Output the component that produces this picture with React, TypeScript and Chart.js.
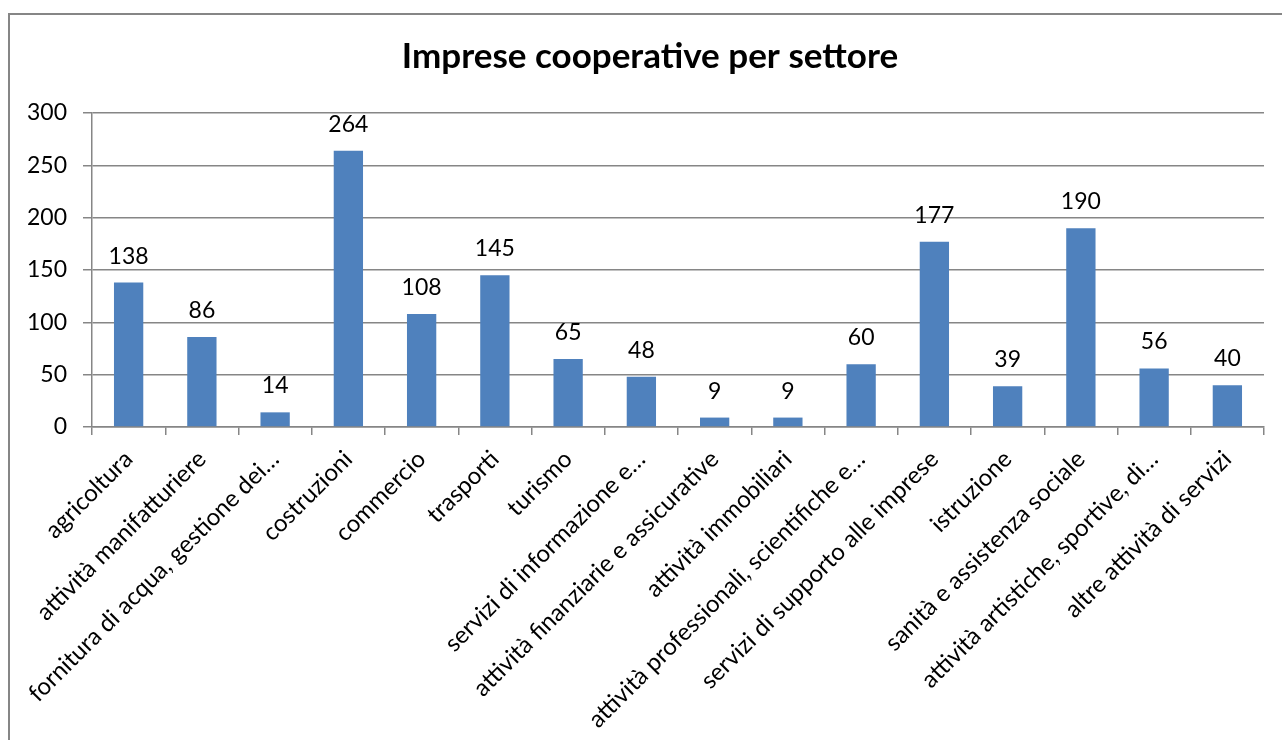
import React, { useEffect, useRef } from "react";
import { Chart, registerables } from "chart.js";

Chart.register(...registerables);

const title = "Imprese cooperative per settore";

const categories = [
  "agricoltura",
  "attività manifatturiere",
  "fornitura di acqua, gestione dei…",
  "costruzioni",
  "commercio",
  "trasporti",
  "turismo",
  "servizi di informazione e…",
  "attività finanziarie e assicurative",
  "attività immobiliari",
  "attività professionali, scientifiche e…",
  "servizi di supporto alle imprese",
  "istruzione",
  "sanità e assistenza sociale",
  "attività artistiche, sportive, di…",
  "altre attività di servizi",
];

const values = [138, 86, 14, 264, 108, 145, 65, 48, 9, 9, 60, 177, 39, 190, 56, 40];

const yTicks = [0, 50, 100, 150, 200, 250, 300];

const FONT = "Lato, 'Open Sans', sans-serif";
const AXIS_GRAY = "#868686";
const BAR_BLUE = "#4F81BD";
const FRAME_LEFT = 9;
const FRAME_TOP = 14;

const valueLabels = {
  id: "valueLabels",
  afterDatasetsDraw(chart: any) {
    const ctx = chart.ctx;
    const meta = chart.getDatasetMeta(0);
    ctx.save();
    ctx.font = `23px ${FONT}`;
    ctx.fillStyle = "#000";
    ctx.textAlign = "center";
    ctx.textBaseline = "alphabetic";
    meta.data.forEach((bar: any, i: number) => {
      ctx.fillText(String(values[i]), bar.x, bar.y - 19);
    });
    ctx.restore();
  },
};

// Title centred on the chart frame (which starts at FRAME_LEFT and spans the canvas width)
const frameTitle = {
  id: "frameTitle",
  afterDraw(chart: any) {
    const ctx = chart.ctx;
    ctx.save();
    ctx.font = `bold 35px ${FONT}`;
    ctx.fillStyle = "#000";
    ctx.textAlign = "center";
    ctx.textBaseline = "middle";
    ctx.fillText(title, FRAME_LEFT + chart.width / 2, FRAME_TOP + 43);
    ctx.restore();
  },
};

export default function App() {
  const ref = useRef<HTMLCanvasElement | null>(null);

  useEffect(() => {
    if (!ref.current) return;
    const chart = new Chart(ref.current, {
      type: "bar",
      data: {
        labels: categories,
        datasets: [
          {
            data: values,
            backgroundColor: BAR_BLUE,
            borderWidth: 0,
            barPercentage: 0.4,
            categoryPercentage: 1,
          },
        ],
      },
      options: {
        animation: false,
        responsive: false,
        devicePixelRatio: 1,
        layout: { padding: { top: 113, right: 18, bottom: 0, left: 0 } },
        plugins: {
          legend: { display: false },
          tooltip: { enabled: false },
          title: { display: false },
        },
        scales: {
          x: {
            grid: {
              offset: true,
              drawOnChartArea: false,
              drawTicks: true,
              tickLength: 8,
              color: AXIS_GRAY,
              lineWidth: 1.5,
            },
            border: { color: AXIS_GRAY, width: 1.5 },
            ticks: {
              autoSkip: false,
              minRotation: 45,
              maxRotation: 45,
              padding: 10,
              color: "#000",
              font: { family: FONT, size: 24 },
            },
            afterFit(scale: any) {
              scale.height = 313;
            },
          },
          y: {
            min: 0,
            max: 300,
            afterBuildTicks(scale: any) {
              scale.ticks = yTicks.map((v) => ({ value: v }));
            },
            grid: {
              color: AXIS_GRAY,
              lineWidth: 1.5,
              drawTicks: true,
              tickLength: 9,
            },
            border: { color: AXIS_GRAY, width: 1.5 },
            ticks: {
              padding: 16,
              color: "#000",
              font: { family: FONT, size: 23 },
            },
            afterFit(scale: any) {
              scale.width = 92;
            },
          },
        },
      },
      plugins: [valueLabels, frameTitle],
    });
    return () => chart.destroy();
  }, []);

  return (
    <div style={{ position: "fixed", left: 0, top: 0, width: 1282, height: 740, overflow: "hidden", background: "#fff" }}>
      <div
        style={{
          position: "absolute",
          left: FRAME_LEFT - 1,
          top: FRAME_TOP - 1,
          width: 1400,
          height: 900,
          border: `2px solid ${AXIS_GRAY}`,
          boxSizing: "border-box",
        }}
      />
      <canvas ref={ref} width={1282} height={740} style={{ position: "absolute", left: 0, top: 0, width: 1282, height: 740 }} />
    </div>
  );
}
